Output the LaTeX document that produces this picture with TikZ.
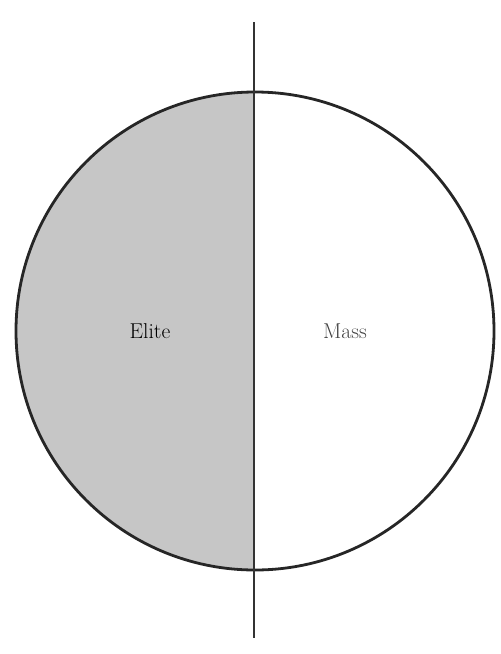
\documentclass[tikz,border=0pt]{standalone}
\usepackage{fontspec}
\begin{document}
\begin{tikzpicture}[x=1pt,y=-1pt,
  rim/.style={draw=black!85,line width=2.8pt},
  divider/.style={draw=black!80,line width=1.6pt},
  lbl/.style={font=\fontsize{21.5}{24}\selectfont}]
\useasboundingbox (0,0) rectangle (501,654);
\coordinate (c) at (255,331);
\fill[gray!45] (254,92) arc[start angle=90,end angle=270,x radius=239,y radius=-239] -- cycle;
\draw[rim] (c) circle[radius=239];
\coordinate (top) at (254,22);
\coordinate (bot) at (254,638);
\draw[divider] (top) -- (bot);
\node[lbl,text=black] (elite) at (150,331) {Elite};
\node[lbl,text=black!75] (mass) at (345,331) {Mass};
\end{tikzpicture}
\end{document}
